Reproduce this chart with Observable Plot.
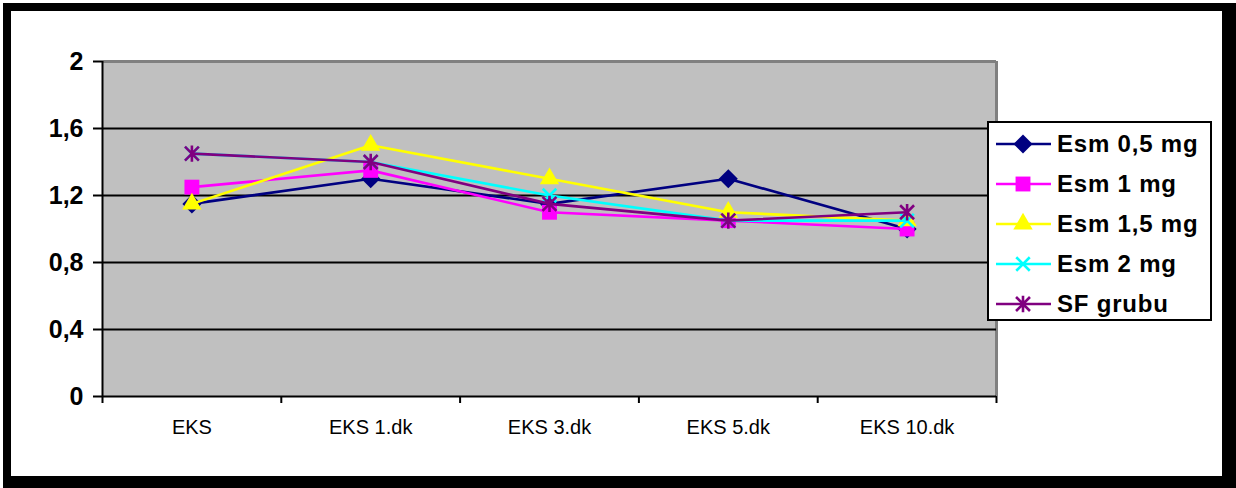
<!DOCTYPE html>
<html>
<head>
<meta charset="utf-8">
<script src="https://cdn.jsdelivr.net/npm/d3@7"></script>
<script src="https://cdn.jsdelivr.net/npm/@observablehq/plot@0.6"></script>
<style>
  html, body { margin: 0; padding: 0; background: #fff; }
  #chart { position: relative; width: 1236px; height: 488px; overflow: hidden; font-family: "Liberation Sans", Arial, sans-serif; }
  #chart svg.plot { position: absolute; left: 0; top: 0; }
  #frame { position: absolute; left: 3px; top: 3px; right: 0; bottom: 0;
           border-style: solid; border-color: #000; border-width: 8px 14px 12px 8px; box-sizing: border-box; pointer-events: none; }
  #legend { position: absolute; left: 987px; top: 121px; width: 225px; height: 200px; box-sizing: border-box;
            border: 2px solid #000; background: #fff; }
  #legend .row { position: absolute; left: 0; height: 40px; display: flex; align-items: center; }
  #legend svg { display: block; }
  #legend span { font-weight: bold; font-size: 24px; letter-spacing: 0.8px; color: #000; margin-left: 4px; white-space: nowrap; }
</style>
</head>
<body>
<div id="chart"><div id="frame"></div></div>
<script>
// Time points (x) and tick values (y)
const categories = ["EKS", "EKS 1.dk", "EKS 3.dk", "EKS 5.dk", "EKS 10.dk"];
const yTicks = [0, 0.4, 0.8, 1.2, 1.6, 2];

// One array per group
const seriesNames = ["Esm 0,5 mg", "Esm 1 mg", "Esm 1,5 mg", "Esm 2 mg", "SF grubu"];
const esm05 = [1.15, 1.30, 1.15, 1.30, 1.00];
const esm1  = [1.25, 1.35, 1.10, 1.05, 1.00];
const esm15 = [1.15, 1.50, 1.30, 1.10, 1.05];
const esm2  = [1.45, 1.40, 1.20, 1.05, 1.05];
const sfGrubu = [1.45, 1.40, 1.15, 1.05, 1.10];

// Asterisk marker: an X crossed by a vertical bar
const starSymbol = {
  draw(context, size) {
    const r = Math.sqrt(size / Math.PI);
    const d = r * 0.85;
    context.moveTo(0, -r); context.lineTo(0, r);
    context.moveTo(-d, -d); context.lineTo(d, d);
    context.moveTo(-d, d); context.lineTo(d, -d);
  }
};

const styles = [
  {values: esm05, color: "#000080", symbol: d3.symbolDiamond2, r: 8.6, filled: true},
  {values: esm1, color: "#ff00ff", symbol: d3.symbolSquare, r: 8.4, filled: true},
  {values: esm15, color: "#ffff00", symbol: d3.symbolTriangle, r: 7.2, filled: true},
  {values: esm2, color: "#00ffff", symbol: d3.symbolTimes, r: 6.2, filled: false},
  {values: sfGrubu, color: "#800080", symbol: starSymbol, r: 8.2, filled: false}
];

const series = styles.map((s, k) => ({
  ...s,
  name: seriesNames[k],
  rows: s.values.map((v, i) => ({i, v}))
}));

const bounds = d3.range(categories.length + 1).map(i => i - 0.5);
const fmt = d => String(d).replace(".", ",");

const seriesMarks = series.flatMap(s => [
  Plot.line(s.rows, {x: "i", y: "v", stroke: s.color, strokeWidth: 2.6}),
  Plot.dot(s.rows, s.filled
    ? {x: "i", y: "v", symbol: () => s.symbol, r: s.r, fill: s.color, stroke: "none"}
    : {x: "i", y: "v", symbol: () => s.symbol, r: s.r, fill: "none", stroke: s.color, strokeWidth: 2.6})
]);

const plot = Plot.plot({
  width: 1236,
  height: 488,
  marginLeft: 102,
  marginRight: 240,
  marginTop: 61,
  marginBottom: 92,
  style: {fontFamily: "'Liberation Sans', Arial, sans-serif", color: "#000", background: "transparent", overflow: "visible"},
  x: {type: "linear", domain: [-0.5, categories.length - 0.5]},
  y: {domain: [0, 2]},
  symbol: {type: "identity"},
  marks: [
    Plot.frame({fill: "#c0c0c0", stroke: "none"}),
    // plot-area top and right edges
    Plot.ruleY([2], {stroke: "#808080", strokeWidth: 3}),
    Plot.ruleX([categories.length - 0.5], {stroke: "#808080", strokeWidth: 3}),
    // horizontal gridlines
    Plot.ruleY(yTicks.filter(t => t > 0 && t < 2), {stroke: "#000", strokeWidth: 2}),
    // y axis ticks and bold labels
    Plot.axisY({ticks: yTicks, tickSize: 9, tickFormat: () => "", strokeWidth: 2, label: null}),
    Plot.text(yTicks, {x: -0.5, y: d => d, text: fmt, dx: -19, textAnchor: "end", fontSize: 25, fontWeight: "bold", fill: "#000"}),
    // x axis: ticks on category boundaries, labels at centres
    Plot.axisX({ticks: bounds, tickSize: 7, tickFormat: () => "", strokeWidth: 2, label: null}),
    Plot.axisX({ticks: d3.range(categories.length), tickSize: 0, tickPadding: 23, tickFormat: i => categories[i], fontSize: 20, label: null}),
    Plot.ruleX([-0.5], {stroke: "#000", strokeWidth: 2}),
    Plot.ruleY([0], {stroke: "#000", strokeWidth: 2}),
    ...seriesMarks
  ]
});
plot.classList.add("plot");
document.getElementById("chart").prepend(plot);

// Legend box
const legend = document.createElement("div");
legend.id = "legend";
series.forEach((s, k) => {
  const row = document.createElement("div");
  row.className = "row";
  row.style.top = (1 + k * 40) + "px";
  const sw = d3.create("svg").attr("width", 64).attr("height", 40);
  sw.append("line").attr("x1", 7).attr("x2", 62).attr("y1", 20).attr("y2", 20)
    .attr("stroke", s.color).attr("stroke-width", 2.6);
  sw.append("path")
    .attr("transform", "translate(34,20)")
    .attr("d", d3.symbol(s.symbol, Math.PI * s.r * s.r)())
    .attr("fill", s.filled ? s.color : "none")
    .attr("stroke", s.filled ? "none" : s.color)
    .attr("stroke-width", 2.6);
  row.appendChild(sw.node());
  const label = document.createElement("span");
  label.textContent = s.name;
  row.appendChild(label);
  legend.appendChild(row);
});
document.getElementById("chart").appendChild(legend);
</script>
</body>
</html>
